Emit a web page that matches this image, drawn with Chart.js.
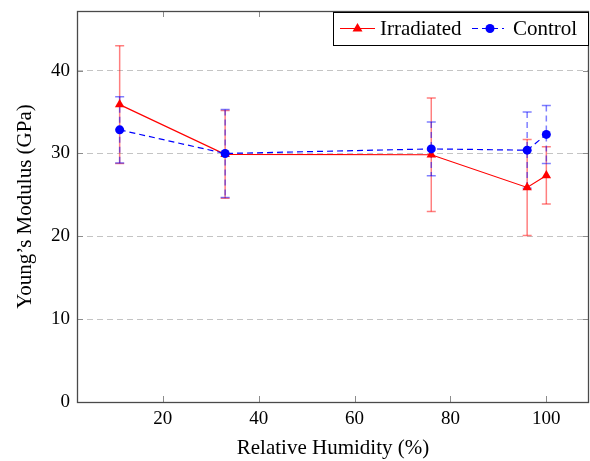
<!DOCTYPE html>
<html>
<head>
<meta charset="utf-8">
<script src="https://cdn.jsdelivr.net/npm/chart.js@4"></script>
<style>
    html, body { margin: 0; padding: 0; background: #fff; }
</style>
</head>
<body>
<canvas id="chart1" width="590" height="461"></canvas>
<script>

// Datos
const humidity = [11, 33, 76, 96, 100]
const irradiated = [35.9, 29.9, 29.85, 25.9, 27.35]
const irradiatedErr = [7.1, 5.3, 6.85, 5.8, 3.45]
const control = [32.85, 30.0, 30.55, 30.4, 32.3]
const controlErr = [4.0, 5.3, 3.25, 4.6, 3.5]
const xTicks = [20, 40, 60, 80, 100]
const yTicks = [0, 10, 20, 30, 40]
const seriesNames = ['Irradiated', 'Control']

const serif = "'Liberation Serif', 'Times New Roman', serif"
const errors = [irradiatedErr, controlErr]


// Barras de error, marco y marcas interiores
const errorBarsPlugin = {
    id: 'errorBars',
    beforeDatasetsDraw(chart) {
        const { ctx, scales: { x, y } } = chart
        chart.data.datasets.forEach((ds, i) => {
            ctx.save()
            ctx.strokeStyle = ds.errorColor
            ctx.lineWidth = 1.5
            ds.data.forEach((p, j) => {
                const px = x.getPixelForValue(p.x)
                const top = y.getPixelForValue(p.y + errors[i][j])
                const bot = y.getPixelForValue(p.y - errors[i][j])
                ctx.setLineDash(ds.borderDash || [])
                ctx.beginPath()
                ctx.moveTo(px, top)
                ctx.lineTo(px, bot)
                ctx.stroke()
                ctx.setLineDash([])
                ctx.beginPath()
                ctx.moveTo(px - 4.5, top)
                ctx.lineTo(px + 4.5, top)
                ctx.moveTo(px - 4.5, bot)
                ctx.lineTo(px + 4.5, bot)
                ctx.stroke()
            })
            ctx.restore()
        })
    },
    afterDraw(chart) {
        const { ctx, chartArea: { left, right, top, bottom }, scales: { x, y } } = chart
        ctx.save()

        // marcas
        ctx.strokeStyle = '#8c8c8c'
        ctx.lineWidth = 1
        ctx.beginPath()
        xTicks.forEach(v => {
            const px = Math.round(x.getPixelForValue(v)) + 0.5
            ctx.moveTo(px, bottom); ctx.lineTo(px, bottom - 6)
            ctx.moveTo(px, top); ctx.lineTo(px, top + 6)
        })
        yTicks.forEach(v => {
            const py = Math.round(y.getPixelForValue(v)) + 0.5
            ctx.moveTo(left, py); ctx.lineTo(left + 6, py)
            ctx.moveTo(right, py); ctx.lineTo(right - 6, py)
        })
        ctx.stroke()

        // marco
        ctx.strokeStyle = '#4a4a4a'
        ctx.lineWidth = 1.3
        ctx.strokeRect(left + 0.5, top + 0.5, right - left - 1, bottom - top)

        // leyenda
        ctx.fillStyle = '#fff'
        ctx.fillRect(333, 12.5, 256, 33)
        ctx.strokeStyle = '#000'
        ctx.lineWidth = 1
        ctx.strokeRect(333.5, 12.5, 255, 33)

        const ly = 28.5
        ctx.strokeStyle = '#ff0000'
        ctx.beginPath(); ctx.moveTo(340, ly); ctx.lineTo(375, ly); ctx.stroke()
        ctx.fillStyle = '#ff0000'
        ctx.beginPath()
        ctx.moveTo(357.5, ly - 5.5); ctx.lineTo(362.5, ly + 3); ctx.lineTo(352.5, ly + 3)
        ctx.closePath(); ctx.fill()

        ctx.strokeStyle = '#0000ff'
        ctx.setLineDash([6, 4])
        ctx.beginPath(); ctx.moveTo(472, ly); ctx.lineTo(504, ly); ctx.stroke()
        ctx.setLineDash([])
        ctx.fillStyle = '#0000ff'
        ctx.beginPath(); ctx.arc(490, ly, 4.5, 0, Math.PI * 2); ctx.fill()

        ctx.fillStyle = '#000'
        ctx.font = `21px ${serif}`
        ctx.textBaseline = 'middle'
        ctx.fillText(seriesNames[0], 380, ly + 1)
        ctx.fillText(seriesNames[1], 513, ly + 1)
        ctx.restore()
    }
}


const drawChart = () => {

    const data = {
        datasets: [
            {
                label: seriesNames[0],
                data: humidity.map((h, i) => ({ x: h, y: irradiated[i] })),
                borderColor: '#ff0000',
                backgroundColor: '#ff0000',
                errorColor: 'rgba(255, 0, 0, .5)',
                borderWidth: 1.2,
                pointStyle: 'triangle',
                pointRadius: 5.5,
                pointBorderWidth: 0,
                showLine: true,
                order: 1
            },
            {
                label: seriesNames[1],
                data: humidity.map((h, i) => ({ x: h, y: control[i] })),
                borderColor: '#0000ff',
                backgroundColor: '#0000ff',
                errorColor: 'rgba(0, 0, 255, .5)',
                borderWidth: 1.2,
                borderDash: [6, 4],
                pointStyle: 'circle',
                pointRadius: 4.5,
                pointBorderWidth: 0,
                showLine: true,
                order: 0
            }
        ]
    }

    const options = {
        responsive: false,
        animation: false,
        devicePixelRatio: 1,
        layout: { autoPadding: false, padding: { top: 11, right: 1, left: 0, bottom: 0 } },
        plugins: {
            legend: { display: false },
            tooltip: { enabled: false }
        },
        scales: {
            x: {
                type: 'linear',
                min: 2.1,
                max: 108.9,
                afterBuildTicks: scale => { scale.ticks = xTicks.map(v => ({ value: v })) },
                afterFit: scale => {
                    scale.height = 59
                    scale.paddingLeft = 0
                    scale.paddingRight = 0
                },
                grid: { display: false, drawTicks: false },
                border: { display: false },
                ticks: { color: '#000', padding: 6, font: { family: serif, size: 19 } },
                title: {
                    display: true,
                    text: 'Relative Humidity (%)',
                    color: '#000',
                    padding: { top: 0, bottom: 0 },
                    font: { family: serif, size: 21 }
                }
            },
            y: {
                min: 0,
                max: 47.2,
                afterBuildTicks: scale => { scale.ticks = yTicks.map(v => ({ value: v })) },
                afterFit: scale => {
                    scale.width = 77
                    scale.paddingTop = 0
                    scale.paddingBottom = 0
                },
                grid: {
                    drawTicks: false,
                    color: ctx => ctx.tick && ctx.tick.value === 0 ? 'rgba(0,0,0,0)' : '#c4c4c4',
                    lineWidth: 1
                },
                border: { display: false, dash: [6, 4] },
                ticks: { color: '#000', padding: 7, font: { family: serif, size: 19 } },
                title: {
                    display: true,
                    text: 'Young\u2019s Modulus (GPa)',
                    color: '#000',
                    padding: { top: 13, bottom: 0 },
                    font: { family: serif, size: 21 }
                }
            }
        }
    }

    new Chart('chart1', {
        type: 'scatter',
        data,
        options,
        plugins: [errorBarsPlugin]
    })
}


drawChart()
</script>
</body>
</html>
